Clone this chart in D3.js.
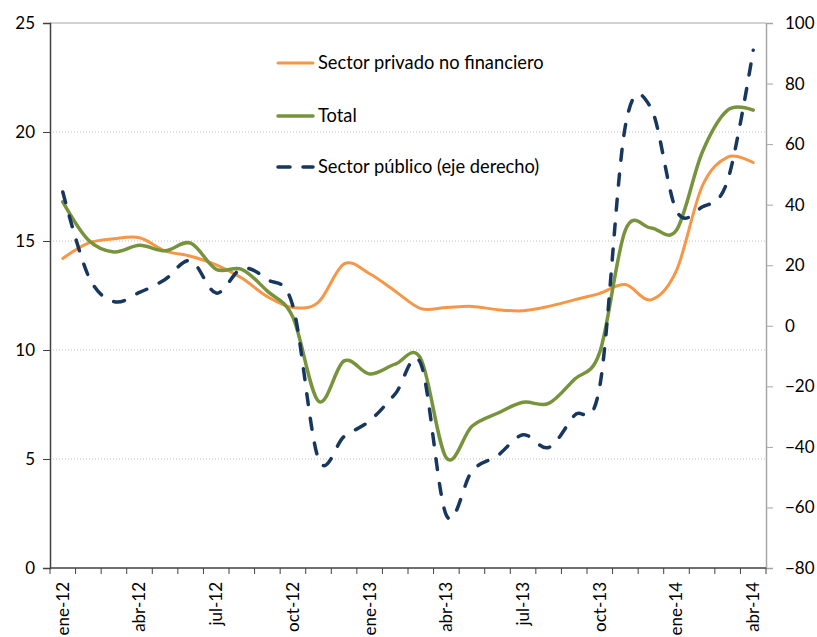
<!DOCTYPE html>
<html>
<head>
<meta charset="utf-8">
<script src="https://cdn.jsdelivr.net/npm/d3@7"></script>
<style>
  body { margin: 0; background: #fff; }
  text { font-family: Lato, "Open Sans", sans-serif; fill: #000; }
</style>
</head>
<body>
<svg width="817" height="637"></svg>
<script>
'use strict'

let months = ['ene-12', 'feb-12', 'mar-12', 'abr-12', 'may-12', 'jun-12', 'jul-12', 'ago-12', 'sep-12', 'oct-12', 'nov-12', 'dic-12',
    'ene-13', 'feb-13', 'mar-13', 'abr-13', 'may-13', 'jun-13', 'jul-13', 'ago-13', 'sep-13', 'oct-13', 'nov-13', 'dic-13',
    'ene-14', 'feb-14', 'mar-14', 'abr-14']

let privado = [14.2, 14.9, 15.1, 15.15, 14.55, 14.3, 13.9, 13.3, 12.45, 11.95, 12.2, 13.95, 13.5, 12.7,
    11.9, 11.95, 12.0, 11.85, 11.8, 12.0, 12.3, 12.6, 13.0, 12.3, 13.65, 17.5, 18.85, 18.6]

let total = [16.8, 15.05, 14.5, 14.8, 14.55, 14.9, 13.7, 13.7, 12.7, 11.5, 7.65, 9.5, 8.9, 9.35,
    9.6, 5.05, 6.5, 7.1, 7.6, 7.55, 8.65, 9.9, 15.5, 15.6, 15.5, 19.05, 21.0, 21.0]

let publico = [44.2, 16.5, 8.0, 11.0, 15.3, 21.5, 10.8, 18.9, 15.3, 6.5, -44, -36.6, -31.4, -22.5,
    -12.5, -62.6, -48, -42.9, -36.0, -40.2, -29.7, -20, 66, 72, 38, 39.2, 48, 91]

let leftTicks = [0, 5, 10, 15, 20, 25]
let rightTicks = [-80, -60, -40, -20, 0, 20, 40, 60, 80, 100]
let labelMonths = months.filter(function(d, i) { return i % 3 === 0 })

let series = [
    { name: 'Sector privado no financiero', values: privado, axis: 'left', color: '#F79646', width: 3, dash: null },
    { name: 'Total', values: total, axis: 'left', color: '#77933C', width: 3.5, dash: null },
    { name: 'Sector público (eje derecho)', values: publico, axis: 'right', color: '#17375E', width: 3.5, dash: '11,14' }
]

let svg = d3.select('svg')

let plotL = 50, plotR = 766, plotT = 23, plotB = 568

let x = d3.scaleBand().domain(months).range([plotL, plotR]).padding(0)
let yL = d3.scaleLinear().domain([0, 25]).range([plotB, plotT])
let yR = d3.scaleLinear().domain([-80, 100]).range([plotB, plotT])

// gridlines
svg.append('g')
    .selectAll('line')
    .data(leftTicks.filter(function(d) { return d > 0 && d < 25 }))
    .enter().append('line')
    .attr('x1', plotL).attr('x2', plotR)
    .attr('y1', function(d) { return yL(d) })
    .attr('y2', function(d) { return yL(d) })
    .style('stroke', '#BFBFBF')
    .style('stroke-width', 1)
    .style('stroke-dasharray', '1,2')

// top border
svg.append('line')
    .attr('x1', plotL).attr('x2', plotR)
    .attr('y1', yL(25)).attr('y2', yL(25))
    .style('stroke', '#A6A6A6')

// left axis
let axL = svg.append('g')
    .attr('transform', 'translate(' + plotL + ',0)')
    .call(d3.axisLeft(yL).tickValues(leftTicks).tickSizeOuter(0).tickSize(7).tickPadding(8))
axL.select('.domain').style('stroke', '#404040').style('stroke-width', 1.5)
axL.selectAll('.tick line').style('stroke', '#404040')
axL.selectAll('text').style('font-size', '17px').style('font-family', 'Lato, sans-serif').attr('fill', '#000')

// right axis
let axR = svg.append('g')
    .attr('transform', 'translate(' + plotR + ',0)')
    .call(d3.axisRight(yR).tickValues(rightTicks).tickSizeOuter(0).tickSize(7).tickPadding(12))
axR.select('.domain').style('stroke', '#A6A6A6').style('stroke-width', 1.5)
axR.selectAll('.tick line').style('stroke', '#A6A6A6')
axR.selectAll('text').style('font-size', '17px').style('font-family', 'Lato, sans-serif').attr('fill', '#000')

// bottom axis: ticks at month boundaries, labels every third month
let bounds = months.map(function(d) { return x(d) }).concat([plotR])
let axB = svg.append('g')
axB.append('line')
    .attr('x1', plotL).attr('x2', plotR)
    .attr('y1', plotB).attr('y2', plotB)
    .style('stroke', '#404040').style('stroke-width', 1.5)
axB.selectAll('.btick')
    .data(bounds)
    .enter().append('line')
    .attr('class', 'btick')
    .attr('x1', function(d) { return d }).attr('x2', function(d) { return d })
    .attr('y1', plotB).attr('y2', plotB + 6)
    .style('stroke', '#404040')
axB.selectAll('.blabel')
    .data(labelMonths)
    .enter().append('text')
    .attr('class', 'blabel')
    .attr('transform', function(d) {
        return 'translate(' + (x(d) + x.bandwidth() / 2) + ',' + (plotB + 14) + ') rotate(-90)'
    })
    .attr('text-anchor', 'end')
    .attr('dy', '0.35em')
    .style('font-size', '17px')
    .text(function(d) { return d })

// lines
let g = svg.append('g')
series.forEach(function(s) {
    let yy = s.axis === 'left' ? yL : yR
    let line = d3.line()
        .x(function(d, i) { return x(months[i]) + x.bandwidth() / 2 })
        .y(function(d) { return yy(d) })
        .curve(d3.curveCardinal.tension(0))
    g.append('path')
        .datum(s.values)
        .attr('d', line)
        .style('fill', 'none')
        .style('stroke', s.color)
        .style('stroke-width', s.width)
        .style('stroke-linecap', 'round')
        .style('stroke-linejoin', 'round')
        .style('stroke-dasharray', s.dash)
})

// legend
let legY = [63, 116, 167]
let leg = svg.append('g')
series.forEach(function(s, i) {
    leg.append('line')
        .attr('x1', 278).attr('x2', 313)
        .attr('y1', legY[i]).attr('y2', legY[i])
        .style('stroke', s.color)
        .style('stroke-width', s.width)
        .style('stroke-linecap', 'round')
        .style('stroke-dasharray', s.dash ? '12,13' : null)
    leg.append('text')
        .attr('x', 318)
        .attr('y', legY[i])
        .attr('dy', '0.35em')
        .style('font-size', '18.3px')
        .text(s.name)
})
</script>
</body>
</html>
